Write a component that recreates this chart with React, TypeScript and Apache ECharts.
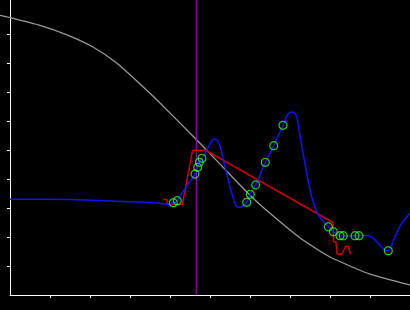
import React, { useEffect, useRef } from "react";
import * as echarts from "echarts";

// x/y values in axis units (ticks every 1 unit)
const grayX = [-0.25, 0.0, 0.75, 1.425, 2.075, 2.675, 3.25, 3.675, 4.75, 5.75, 6.125, 6.5, 7.0, 7.325, 8.0, 8.675, 9.0, 10.0];
const grayY = [9.645, 9.569, 9.3, 8.97, 8.55, 7.99, 7.276, 6.724, 5.231, 3.793, 3.276, 2.817, 2.241, 1.897, 1.31, 0.897, 0.724, 0.345];

const blueX = [0, 1.5, 3.0, 3.625, 3.95, 4.0825, 4.1825, 4.4, 4.625, 4.6925, 4.7325, 4.8, 4.95, 5.025, 5.1, 5.175, 5.25, 5.375, 5.5, 5.625, 5.7125, 5.8, 5.9175, 6.0075, 6.1425, 6.3825, 6.5925, 6.825, 6.95, 7.075, 7.175, 7.2325, 7.4175, 7.5425, 7.7075, 7.9575, 8.0825, 8.25, 8.3325, 8.625, 8.725, 8.9425, 9.375, 9.4575, 9.625, 9.7925, 10.0];
const blueY = [3.3, 3.293, 3.214, 3.183, 3.131, 3.183, 3.252, 3.724, 4.172, 4.403, 4.576, 4.714, 5.069, 5.276, 5.369, 5.345, 5.138, 4.424, 3.734, 3.162, 3.02, 3.05, 3.197, 3.472, 3.793, 4.576, 5.148, 5.852, 6.24, 6.31, 6.1, 5.631, 4.207, 3.39, 2.759, 2.355, 2.183, 2.045, 2.045, 2.045, 2.045, 2.052, 1.552, 1.528, 2.01, 2.472, 2.817];

const greenX = [4.0825, 4.1825, 4.625, 4.6925, 4.7325, 4.8, 5.9175, 6.0075, 6.1425, 6.3825, 6.5925, 6.825, 7.9575, 8.0825, 8.25, 8.3325, 8.625, 8.725, 9.4575];
const greenY = [3.183, 3.252, 4.172, 4.403, 4.576, 4.714, 3.197, 3.472, 3.793, 4.576, 5.148, 5.852, 2.355, 2.183, 2.045, 2.045, 2.045, 2.045, 1.528];

const redX = [3.825, 3.925, 3.925, 4.3125, 4.5625, 4.9, 8.075, 8.0875, 8.15, 8.175, 8.3, 8.3875, 8.4625, 8.5125];
const redY = [3.293, 3.293, 3.121, 3.121, 4.983, 4.983, 2.5, 1.845, 1.828, 1.414, 1.414, 1.672, 1.672, 1.397];

const markerX = 4.6575;
const tickValues = [1, 2, 3, 4, 5, 6, 7, 8, 9];
const yMax = 10.172;
const xMin = -0.25;

const zip = (xs: number[], ys: number[]) => xs.map((x, i) => [x, ys[i]]);

export default function App() {
  const ref = useRef<HTMLDivElement>(null);
  useEffect(() => {
    document.body.style.margin = "0";
    document.body.style.background = "#000";
    const chart = echarts.init(ref.current!, undefined, { renderer: "svg" });
    const axisCommon = {
      type: "value" as const,
      axisLine: { show: true, onZero: false, lineStyle: { color: "#ffffff", width: 1 } },
      axisTick: { show: true, length: 3, customValues: tickValues, lineStyle: { color: "#ffffff", width: 1 } },
      axisLabel: { show: false },
      splitLine: { show: false },
    };
    const hidden = {
      type: "value" as const,
      show: false,
      axisLine: { show: false },
      axisTick: { show: false },
      axisLabel: { show: false },
      splitLine: { show: false },
    };
    chart.setOption({
      animation: false,
      backgroundColor: "#000000",
      grid: [
        { left: 10, right: 0, top: 0, bottom: 15 },
        { left: 0, right: 0, top: 0, bottom: 15 },
      ],
      xAxis: [
        { ...axisCommon, gridIndex: 0, min: 0, max: 10, interval: 1 },
        { ...hidden, gridIndex: 1, min: xMin, max: 10 },
      ],
      yAxis: [
        { ...axisCommon, gridIndex: 0, min: 0, max: yMax, interval: 1 },
        { ...hidden, gridIndex: 1, min: 0, max: yMax },
      ],
      series: [
        {
          type: "line",
          xAxisIndex: 1,
          yAxisIndex: 1,
          data: zip(grayX, grayY),
          smooth: 0.2,
          symbol: "none",
          lineStyle: { color: "#999999", width: 1.3 },
          z: 1,
        },
        {
          type: "line",
          xAxisIndex: 1,
          yAxisIndex: 1,
          data: [[markerX, 0], [markerX, yMax]],
          symbol: "none",
          lineStyle: { color: "#8a10a0", width: 1.2 },
          z: 2,
        },
        {
          type: "line",
          xAxisIndex: 1,
          yAxisIndex: 1,
          data: zip(redX, redY),
          symbol: "none",
          lineStyle: { color: "#cc0000", width: 1.5 },
          z: 3,
        },
        {
          type: "line",
          xAxisIndex: 1,
          yAxisIndex: 1,
          data: zip(blueX, blueY),
          smooth: 0.3,
          symbol: "none",
          lineStyle: { color: "#1010ff", width: 1.5 },
          z: 4,
        },
        {
          type: "scatter",
          xAxisIndex: 1,
          yAxisIndex: 1,
          data: zip(greenX, greenY),
          symbol: "circle",
          symbolSize: 8,
          itemStyle: { color: "rgba(0,0,0,0)", borderColor: "#33ff33", borderWidth: 1.2 },
          z: 5,
        },
      ],
    });
    return () => chart.dispose();
  }, []);
  return <div ref={ref} style={{ position: "fixed", left: 0, top: 0, width: 410, height: 310 }} />;
}
